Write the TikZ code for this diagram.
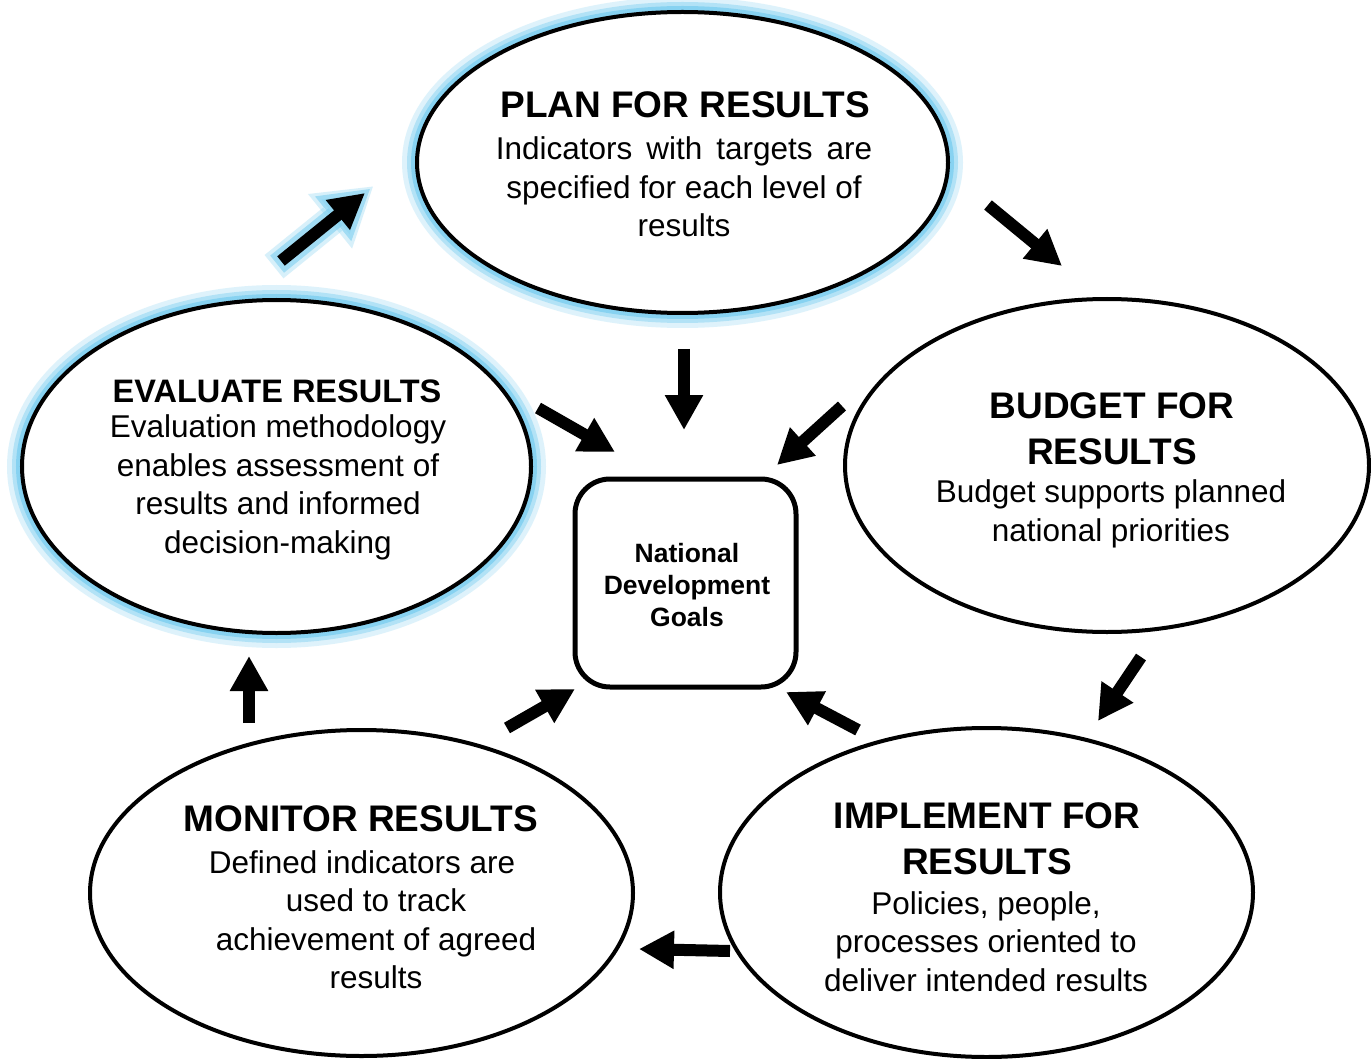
\documentclass[tikz,border=0pt]{standalone}
\usepackage{fontspec}
\setmainfont{Liberation Sans}
\usetikzlibrary{shapes.geometric,arrows.meta}
\definecolor{glowc}{RGB}{125,207,240}
\begin{document}
\begin{tikzpicture}[x=1pt,y=-1pt,
  ell/.style={ellipse, draw, line width=4pt, inner sep=0pt, fill=none},
  hd/.style={font=\fontsize{37}{46}\selectfont\bfseries, align=center, inner sep=0pt},
  bd/.style={font=\fontsize{31.5}{38.5}\selectfont, align=center, inner sep=0pt},
  arr/.style={line width=12pt, -{Triangle[length=35pt,width=36pt]}},
  glowarrA/.style={glowc, opacity=0.3, line width=30pt, -{Triangle[length=56pt,width=66pt]}, shorten >=-11pt, shorten <=-9pt},
  glowarrB/.style={glowc, opacity=0.6, line width=22pt, -{Triangle[length=48pt,width=54pt]}, shorten >=-7pt, shorten <=-5pt},
  glowA/.style={glowc, opacity=0.25, line width=16pt},
  glowB/.style={glowc, opacity=0.45, line width=10pt},
  glowC/.style={glowc, opacity=0.8, line width=5pt}
]
\path[use as bounding box, fill=white] (0,0) rectangle (1371,1059);

% glows
\foreach \cx/\cy/\rx/\ry in {682.5/162.5/265.5/150.5, 276.5/466.5/254.5/166.5}{
  \draw[glowA] (\cx,\cy) ellipse [x radius=\rx pt+7pt, y radius=\ry pt+7pt];
  \draw[glowB] (\cx,\cy) ellipse [x radius=\rx pt+5pt, y radius=\ry pt+5pt];
  \draw[glowC] (\cx,\cy) ellipse [x radius=\rx pt+3.5pt, y radius=\ry pt+3.5pt];
}

% ellipses
\node[ell, minimum width=531pt, minimum height=301pt] (plan) at (682.5,162.5) {};
\node[ell, minimum width=524pt, minimum height=333pt] (budget) at (1107,465.5) {};
\node[ell, minimum width=509pt, minimum height=333pt] (evaluate) at (276.5,466.5) {};
\node[ell, minimum width=543pt, minimum height=326pt] (monitor) at (361.5,893) {};
\node[ell, minimum width=533pt, minimum height=329pt] (implement) at (986.5,892.5) {};
\node[draw, line width=5pt, rounded corners=35pt, minimum width=221pt, minimum height=208pt, inner sep=0pt] (goal) at (685.5,583) {};

% texts
\node[hd] (planH) at (685,105) {PLAN FOR RESULTS};
\node[bd] (planB) at (684,187) {Indicators\, with\, targets\, are\\specified for each level of\\results};
\node[hd] (budgetH) at (1112,429) {BUDGET FOR\\RESULTS};
\node[bd] (budgetB) at (1111,514) {Budget supports planned\\national priorities};
\node[hd, font=\fontsize{32.5}{46}\selectfont\bfseries] (evalH) at (277,391) {EVALUATE RESULTS};
\node[bd] (evalB) at (278,487.5) {Evaluation methodology\\enables assessment of\\results and informed\\decision-making};
\node[hd] (monH) at (361,819) {MONITOR RESULTS};
\node[bd] (monB) at (376,919.5) {Defined indicators are\hspace*{28pt}\\used to track\\achievement of agreed\\results};
\node[hd] (impH) at (987,838.5) {IMPLEMENT FOR\\RESULTS};
\node[bd] (impB) at (986,941.5) {Policies, people,\\processes oriented to\\deliver intended results};
\node[font=\fontsize{26.5}{32}\selectfont\bfseries, align=center, inner sep=0pt] (goalT) at (687,585.5) {National\\Development\\Goals};

% arrow end points
\coordinate (e1a) at (281,261); \coordinate (e1b) at (365,193);
\coordinate (p2a) at (988,205); \coordinate (p2b) at (1062,266);
\coordinate (b3a) at (1141,657); \coordinate (b3b) at (1098,721);
\coordinate (i4a) at (730,951); \coordinate (i4b) at (639,949);
\coordinate (m5a) at (249,723); \coordinate (m5b) at (249,656);
\coordinate (c6a) at (684,349); \coordinate (c6b) at (684,430);
\coordinate (c7a) at (538,408); \coordinate (c7b) at (615,452);
\coordinate (c8a) at (842,406); \coordinate (c8b) at (777,465);
\coordinate (c9a) at (507,728); \coordinate (c9b) at (575,689);
\coordinate (c10a) at (858,730); \coordinate (c10b) at (786,692);

% glowing arrow
\draw[glowarrA] (e1a) -- (e1b);
\draw[glowarrB] (e1a) -- (e1b);
\draw[arr] (e1a) -- (e1b);

\draw[arr] (p2a) -- (p2b);
\draw[arr] (b3a) -- (b3b);
\draw[arr] (i4a) -- (i4b);
\draw[arr] (m5a) -- (m5b);
\draw[arr] (c6a) -- (c6b);
\draw[arr] (c7a) -- (c7b);
\draw[arr] (c8a) -- (c8b);
\draw[arr] (c9a) -- (c9b);
\draw[arr] (c10a) -- (c10b);
\end{tikzpicture}
\end{document}
